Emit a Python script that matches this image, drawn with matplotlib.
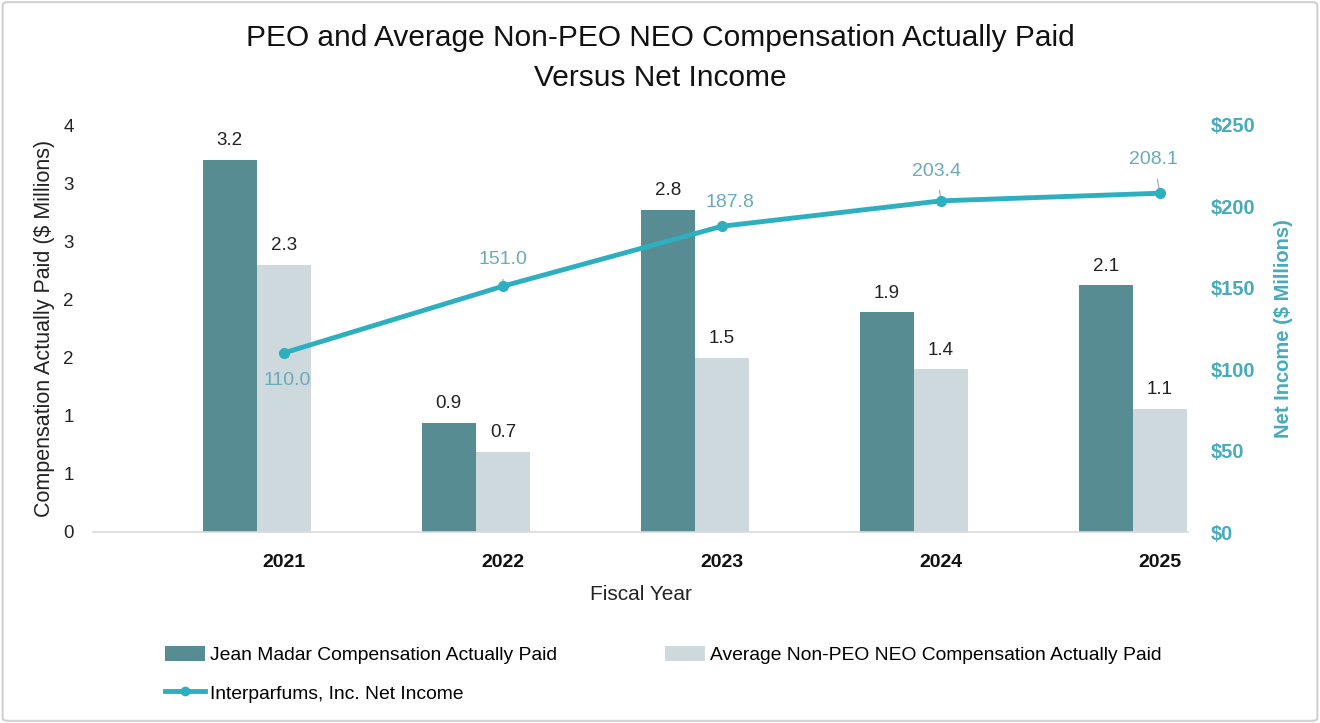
import matplotlib
matplotlib.use("Agg")
import matplotlib.pyplot as plt
from matplotlib.lines import Line2D
from matplotlib.patches import Patch, FancyBboxPatch
import numpy as np

years = ["2021", "2022", "2023", "2024", "2025"]
peo_cap = [3.20, 0.94, 2.77, 1.89, 2.12]
peo_labels = ["3.2", "0.9", "2.8", "1.9", "2.1"]
neo_cap = [2.30, 0.69, 1.50, 1.40, 1.06]
neo_labels = ["2.3", "0.7", "1.5", "1.4", "1.1"]
net_income = [110.0, 151.0, 187.8, 203.4, 208.1]
left_ticks = [0, 0.5, 1.0, 1.5, 2.0, 2.5, 3.0, 3.5]
left_tick_labels = ["0", "1", "1", "2", "2", "3", "3", "4"]
right_ticks = [0, 50, 100, 150, 200, 250]
right_tick_labels = ["$0", "$50", "$100", "$150", "$200", "$250"]

base = "Liberation Sans"

DARK = "#578c93"
LIGHT = "#cdd9dd"
TEAL = "#2eafc0"
TEAL_TXT = "#6aabb8"
TEAL_AX = "#47abbb"

fig = plt.figure(figsize=(13.2, 7.23), dpi=100)
fig.patches.append(FancyBboxPatch((0.002, 0.003), 0.996, 0.994, boxstyle="round,pad=0,rounding_size=0.004",
                                  transform=fig.transFigure, fill=False, edgecolor="#d0d0d0", linewidth=1.5))
ax = fig.add_axes([93/1320, 191/723, 1095/1320, 407/723])
ax2 = ax.twinx()

x = np.arange(len(years))
w = 0.248
ax.bar(x + w/2, peo_cap, width=w, color=DARK, zorder=2)
ax.bar(x + 1.5*w, neo_cap, width=w, color=LIGHT, zorder=2)
for xi, v, t in zip(x + w/2, peo_cap, peo_labels):
    ax.text(xi, v + 0.09, t, ha="center", va="bottom", fontsize=13.5, family=base, color="#222222")
for xi, v, t in zip(x + 1.5*w, neo_cap, neo_labels):
    ax.text(xi, v + 0.09, t, ha="center", va="bottom", fontsize=13.5, family=base, color="#222222")

ax.set_xlim(-0.5, 4.5)
ax.set_ylim(0, 3.5)
ax2.set_ylim(0, 250)
ax.set_yticks(left_ticks)
ax.set_yticklabels(left_tick_labels, family=base, fontsize=13.5, color="#222222")
ax2.set_yticks(right_ticks)
ax2.set_yticklabels(right_tick_labels, family=base, fontsize=14.5, fontweight="bold", color=TEAL_AX)
ax.set_xticks(x + 1.5*w)
ax.set_xticklabels(years, family=base, fontsize=14, fontweight="bold", color="#111111")
ax.tick_params(axis="y", length=0, pad=14)
ax2.tick_params(axis="y", length=0, pad=16)
ax.tick_params(axis="x", length=0, pad=16)
for a in (ax, ax2):
    for s in a.spines.values():
        s.set_visible(False)
ax.spines["bottom"].set_visible(True)
ax.spines["bottom"].set_color("#d9d9d9")
ax.spines["bottom"].set_linewidth(1.2)

ax.set_ylabel("Compensation Actually Paid ($ Millions)", family=base, fontsize=15.5, color="#222222", labelpad=6)
ax2.set_ylabel("Net Income ($ Millions)", family=base, fontsize=14.5, fontweight="bold", color=TEAL_AX, labelpad=14)
ax.set_xlabel("Fiscal Year", family=base, fontsize=15, color="#222222", labelpad=10)

ax2.set_zorder(ax.get_zorder() + 1)
ax2.patch.set_visible(False)
lx = x + 1.5*w
ax2.plot(lx, net_income, color=TEAL, linewidth=3.5, marker="o", markersize=7, zorder=5)

offsets = [(2, -20), (0, 19), (6, 17), (-3, 21.5), (-4.5, 24)]
leaders = [False, True, True, True, True]
for xi, v, (dx, dy), ld in zip(lx, net_income, offsets, leaders):
    kw = dict(xy=(xi, v), xytext=(dx, dy), textcoords="offset points",
              ha="center", va="center", fontsize=14, family=base, color=TEAL_TXT)
    if ld:
        kw["arrowprops"] = dict(arrowstyle="-", color="#a0a0a0", lw=0.8, shrinkA=6, shrinkB=2)
    ax2.annotate(f"{v:.1f}", **kw)

fig.text(0.5, 1 - 38/723, "PEO and Average Non-PEO NEO Compensation Actually Paid", ha="center", va="center",
         fontsize=21.5, family=base, color="#111111")
fig.text(0.5, 1 - 78/723, "Versus Net Income", ha="center", va="center",
         fontsize=21.5, family=base, color="#111111")

handles = [Patch(facecolor=DARK, edgecolor="none"),
           Line2D([0], [0], color=TEAL, lw=3.5, marker="o", markersize=6),
           Patch(facecolor=LIGHT, edgecolor="none")]
labels = ["Jean Madar Compensation Actually Paid", "Interparfums, Inc. Net Income",
          "Average Non-PEO NEO Compensation Actually Paid"]
fig.legend(handles, labels, ncol=2, loc="upper left", bbox_to_anchor=(165/1320, 1 - 646/723),
           frameon=False, prop={"family": base, "size": 13.9}, handlelength=2.07, handleheight=0.85,
           handletextpad=0.25, columnspacing=5.6, labelspacing=1.03, borderaxespad=0, borderpad=0)

fig.savefig("out.png", dpi=100)
